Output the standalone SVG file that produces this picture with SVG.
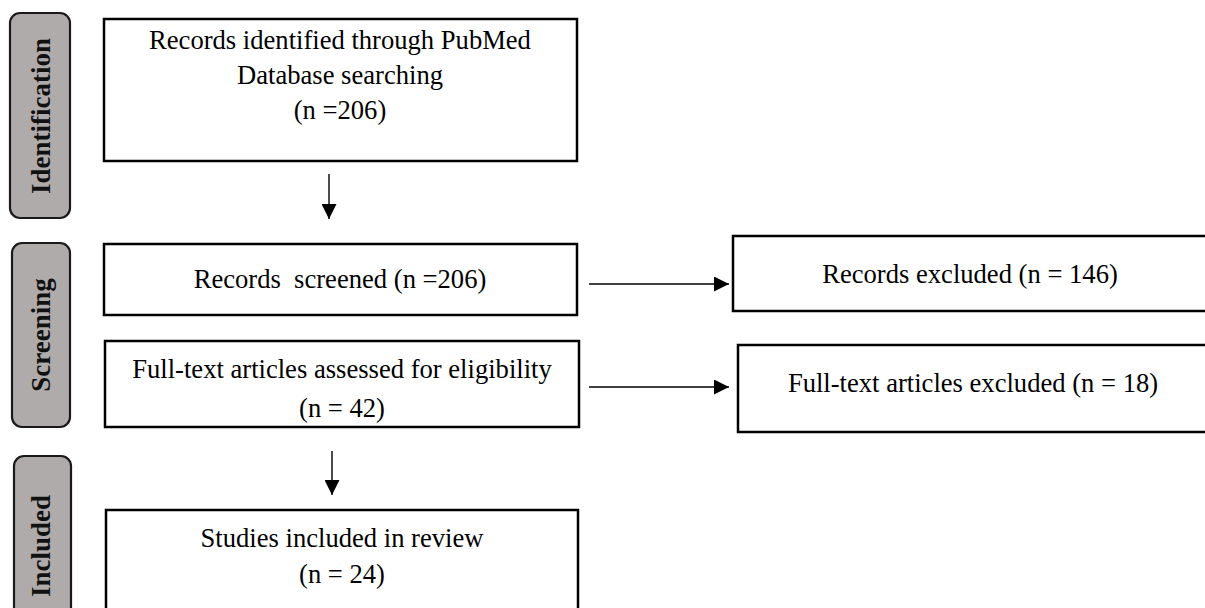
<svg xmlns="http://www.w3.org/2000/svg" width="1205" height="608" viewBox="0 0 1205 608">
  <style>
    .box { fill: #ffffff; stroke: #000000; stroke-width: 2.5; }
    .stage { fill: #afabab; stroke: #1a1a1a; stroke-width: 2.2; }
    .t { font-family: "Liberation Serif", "Times New Roman", serif; font-size: 26.6px; fill: #000; text-anchor: middle; }
    .lbl { font-family: "Liberation Serif", "Times New Roman", serif; font-size: 27px; font-weight: bold; fill: #111; text-anchor: middle; }
    .conn { stroke: #000; stroke-width: 1.4; fill: none; marker-end: url(#arr); }
  </style>
  <defs>
    <marker id="arr" viewBox="0 0 15 15" refX="15" refY="7.5" markerWidth="15" markerHeight="15" markerUnits="userSpaceOnUse" orient="auto">
      <path d="M0,0 L15,7.5 L0,15 z" fill="#000"/>
    </marker>
  </defs>
  <rect width="1205" height="608" fill="#ffffff"/>

  <g id="stage-identification">
    <rect class="stage" x="10" y="13" width="60" height="205" rx="10"/>
    <text class="lbl" transform="translate(50,116) rotate(-90)">Identification</text>
  </g>
  <g id="stage-screening">
    <rect class="stage" x="12" y="243" width="58" height="184" rx="10"/>
    <text class="lbl" transform="translate(50,335) rotate(-90)">Screening</text>
  </g>
  <g id="stage-included">
    <rect class="stage" x="14" y="456" width="57" height="170" rx="10"/>
    <text class="lbl" transform="translate(50,546) rotate(-90)">Included</text>
  </g>

  <g id="node-identified">
    <rect class="box" x="104" y="19" width="473" height="142"/>
    <text class="t" x="340" y="49">Records identified through PubMed</text>
    <text class="t" x="340" y="84">Database searching</text>
    <text class="t" x="340" y="119">(n =206)</text>
  </g>
  <g id="node-screened">
    <rect class="box" x="104" y="244" width="473" height="71"/>
    <text class="t" x="340" y="288" xml:space="preserve">Records  screened (n =206)</text>
  </g>
  <g id="node-fulltext">
    <rect class="box" x="105" y="341" width="474" height="86"/>
    <text class="t" x="342" y="378">Full-text articles assessed for eligibility</text>
    <text class="t" x="342" y="417">(n = 42)</text>
  </g>
  <g id="node-records-excluded">
    <rect class="box" x="733" y="236" width="480" height="75"/>
    <text class="t" x="970" y="283">Records excluded (n = 146)</text>
  </g>
  <g id="node-fulltext-excluded">
    <rect class="box" x="738" y="345" width="480" height="87"/>
    <text class="t" x="973" y="392">Full-text articles excluded (n = 18)</text>
  </g>
  <g id="node-included">
    <rect class="box" x="106" y="510" width="472" height="110"/>
    <text class="t" x="342" y="547">Studies included in review</text>
    <text class="t" x="342" y="583">(n = 24)</text>
  </g>

  <g id="connectors">
    <line class="conn" x1="329" y1="174" x2="329" y2="219"/>
    <line class="conn" x1="589" y1="284" x2="729" y2="284"/>
    <line class="conn" x1="589" y1="387" x2="729" y2="387"/>
    <line class="conn" x1="332" y1="451" x2="332" y2="495"/>
  </g>
</svg>
